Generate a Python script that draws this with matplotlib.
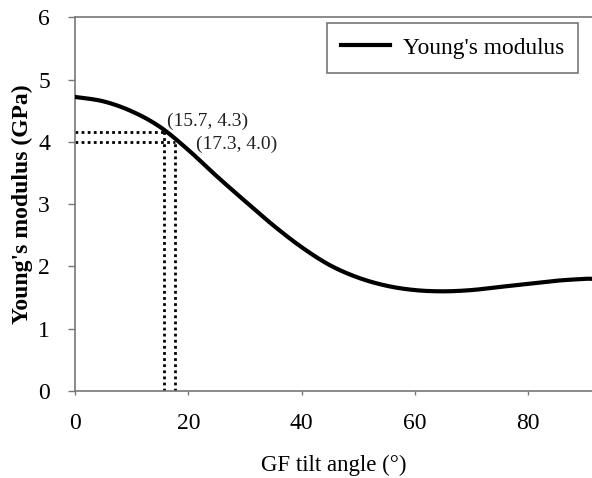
import numpy as np
import matplotlib.pyplot as plt

# values
tilt_angle = [0, 5, 10, 15, 20, 25, 30, 35, 40, 45, 50, 55, 60, 65,
              70, 75, 80, 85, 90, 91.3]
youngs_modulus = [4.72, 4.65, 4.49, 4.24, 3.87, 3.45, 3.05, 2.66, 2.31, 2.02,
                  1.82, 1.69, 1.62, 1.60, 1.62, 1.67, 1.72, 1.77, 1.80, 1.80]

marker_x = [15.7, 17.6]
marker_y = [4.15, 4.0]
marker_labels = ['(15.7, 4.3)', '(17.3, 4.0)']

plt.rcParams['font.family'] = ['Liberation Serif', 'DejaVu Serif']

fig = plt.figure(figsize=(5.92, 4.78), dpi=100)
ax = fig.add_axes([0.1267, 0.182, 0.8733, 0.782])

# smooth the read points with a Catmull-Rom spline through them
x = np.array(tilt_angle)
y = np.array(youngs_modulus)
xs, ys = [], []
for i in range(len(x) - 1):
    p0 = i - 1 if i > 0 else i
    p3 = i + 2 if i + 2 < len(x) else i + 1
    for t in np.linspace(0, 1, 20, endpoint=False):
        t2, t3 = t * t, t * t * t
        def cr(a):
            return 0.5 * ((2 * a[i]) + (-a[p0] + a[i + 1]) * t
                          + (2 * a[p0] - 5 * a[i] + 4 * a[i + 1] - a[p3]) * t2
                          + (-a[p0] + 3 * a[i] - 3 * a[i + 1] + a[p3]) * t3)
        xs.append(cr(x))
        ys.append(cr(y))
xs.append(x[-1])
ys.append(y[-1])

ax.plot(xs, ys, color='black', lw=3, label="Young's modulus", zorder=3)

for mx, my in zip(marker_x, marker_y):
    ax.plot([0, mx], [my, my], color='black', ls=(0, (1, 1.2)), lw=2)
    ax.plot([mx, mx], [0, my], color='black', ls=(0, (1, 1.2)), lw=2)

ax.text(16.3, 4.33, marker_labels[0], fontsize=14, color='#222222', va='center')
ax.text(21.3, 3.96, marker_labels[1], fontsize=14, color='#222222', va='center')

ax.set_xlim(0, 91.3)
ax.set_ylim(0, 6)
ax.set_xticks([0, 20, 40, 60, 80])
ax.set_yticks([0, 1, 2, 3, 4, 5, 6])
ax.tick_params(labelsize=17, direction='out', width=1, color='#777777')
ax.tick_params(axis='x', length=3, pad=13)
ax.tick_params(axis='y', length=5, pad=13)

for side in ['left', 'bottom', 'top']:
    ax.spines[side].set_color('#777777')
    ax.spines[side].set_linewidth(1.2)
ax.spines['right'].set_visible(False)

ax.set_xlabel('GF tilt angle (°)', fontsize=16.5, labelpad=15)
ax.set_ylabel("Young's modulus (GPa)", fontsize=17, fontweight='bold')
ax.yaxis.set_label_coords(-0.082, 0.5)

leg = ax.legend(loc='upper right', fontsize=16.8, frameon=True, fancybox=False,
                handlelength=2.1, handletextpad=0.55, borderpad=0.6,
                borderaxespad=0, bbox_to_anchor=(0.973, 0.984))
leg.get_frame().set_edgecolor('#555555')
leg.get_frame().set_linewidth(1.2)

fig.savefig('out.png', dpi=100)
